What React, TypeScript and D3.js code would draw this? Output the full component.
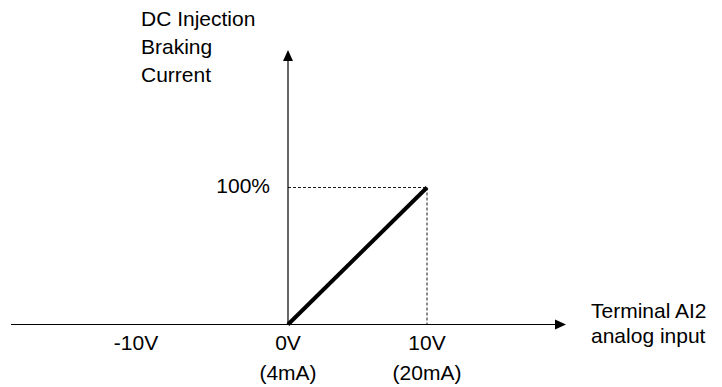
import React from "react";
import * as d3 from "d3";

const tickValues = [-10, 0, 10];
const tickLabels = ["-10V", "0V", "10V"];
const tickSubLabels = ["", "(4mA)", "(20mA)"];
const lineX = [0, 10];
const lineY = [0, 100];
const yLevel = 100;
const yLevelLabel = "100%";
const yTitle = ["DC Injection", "Braking", "Current"];
const xTitle = ["Terminal AI2", "analog input"];

export default function App() {
  const W = 722, H = 387;
  const x = d3.scaleLinear().domain([-10, 0, 10]).range([136, 288, 427]);
  const y = d3.scaleLinear().domain([0, 100]).range([324.5, 187.5]);
  const font = "Arial, 'Liberation Sans', sans-serif";
  const fs = 21;
  const lineGen = d3.line<number>().x((d) => x(lineX[d])).y((d) => y(lineY[d]));
  const x0 = x(0), y0 = y(0);
  const axisRight = 566, axisTop = 50;
  return (
    <svg width={W} height={H} style={{ position: "absolute", left: 0, top: 0 }} fontFamily={font} fill="#000">
      <rect width={W} height={H} fill="#fff" />
      {/* x axis */}
      <line x1={11} x2={axisRight - 8} y1={y0} y2={y0} stroke="#000" strokeWidth={1.2} />
      <path d={`M${axisRight},${y0} L${axisRight - 11},${y0 - 5} L${axisRight - 11},${y0 + 5} Z`} fill="#000" />
      {/* y axis */}
      <line x1={x0} x2={x0} y1={y0} y2={axisTop + 8} stroke="#000" strokeWidth={1.2} />
      <path d={`M${x0},${axisTop} L${x0 - 5},${axisTop + 11} L${x0 + 5},${axisTop + 11} Z`} fill="#000" />
      {/* dashed guides */}
      <line x1={x0} x2={x(10)} y1={y(yLevel)} y2={y(yLevel)} stroke="#000" strokeWidth={0.9} strokeDasharray="3,2" />
      <line x1={x(10)} x2={x(10)} y1={y(yLevel)} y2={y0} stroke="#000" strokeWidth={0.9} strokeDasharray="3,2" />
      {/* data line */}
      <path d={lineGen([0, 1]) || ""} fill="none" stroke="#000" strokeWidth={4} />
      {/* tick labels */}
      {tickValues.map((v, i) => (
        <g key={v}>
          <text x={x(v)} y={350} textAnchor="middle" fontSize={fs}>{tickLabels[i]}</text>
          {tickSubLabels[i] && (
            <text x={x(v)} y={380} textAnchor="middle" fontSize={fs}>{tickSubLabels[i]}</text>
          )}
        </g>
      ))}
      <text x={270} y={y(yLevel) + 5} textAnchor="end" fontSize={fs}>{yLevelLabel}</text>
      {yTitle.map((t, i) => (
        <text key={t} x={141} y={26 + i * 28} fontSize={fs}>{t}</text>
      ))}
      {xTitle.map((t, i) => (
        <text key={t} x={591} y={318 + i * 25} fontSize={fs}>{t}</text>
      ))}
    </svg>
  );
}
